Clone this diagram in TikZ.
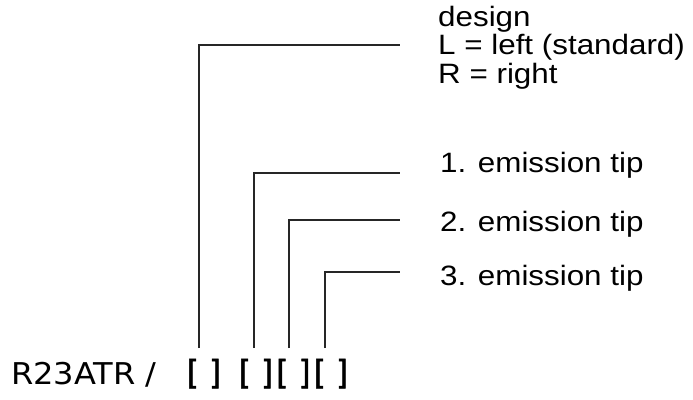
\documentclass[tikz,border=0pt]{standalone}
\usepackage{fontspec}
\setmainfont{Liberation Sans}
\newfontfamily\labelfont[FakeStretch=1.12]{Liberation Sans}
\newfontfamily\codefont[FakeStretch=1.07]{DejaVu Sans}
\newfontfamily\brfont[FakeStretch=0.95,FakeBold=1.5]{DejaVu Sans}
\begin{document}
\begin{tikzpicture}[x=1pt,y=1pt,
  lbl/.style={inner sep=0pt, align=left, font=\labelfont\fontsize{28}{28.5}\selectfont},
  code/.style={inner sep=0pt, font=\codefont\fontsize{30}{30}\selectfont},
  brk/.style={inner sep=0pt, font=\brfont\fontsize{33}{33}\selectfont},
  leader/.style={line width=1.2pt, black!85}]
\useasboundingbox (0,0) rectangle (693,399);
% code line
\node[code, anchor=base west] (pre) at (11,15) {R23ATR /};
\node[brk, anchor=base] (b1) at (204,15) {[ ]};
\node[brk, anchor=base] (b2) at (256,15) {[ ]};
\node[brk, anchor=base] (b3) at (293.5,15) {[ ]};
\node[brk, anchor=base] (b4) at (331,15) {[ ]};
% labels
\node[lbl, anchor=north west] (l0) at (438,393) {design\\L = left (standard)\\R = right};
\node[lbl, anchor=base west] (l1) at (440,226) {1. emission tip};
\node[lbl, anchor=base west] (l2) at (440,167) {2. emission tip};
\node[lbl, anchor=base west] (l3) at (440,113) {3. emission tip};
% leader ends
\coordinate (e0) at (400,354);
\coordinate (e1) at (400,226);
\coordinate (e2) at (400,179);
\coordinate (e3) at (400,127);
\draw[leader] ([xshift=-5pt]b1.north |- 0,51) |- (e0);
\draw[leader] ([xshift=-2pt]b2.north |- 0,51) |- (e1);
\draw[leader] ([xshift=-4.5pt]b3.north |- 0,51) |- (e2);
\draw[leader] ([xshift=-6pt]b4.north |- 0,51) |- (e3);
\end{tikzpicture}
\end{document}
